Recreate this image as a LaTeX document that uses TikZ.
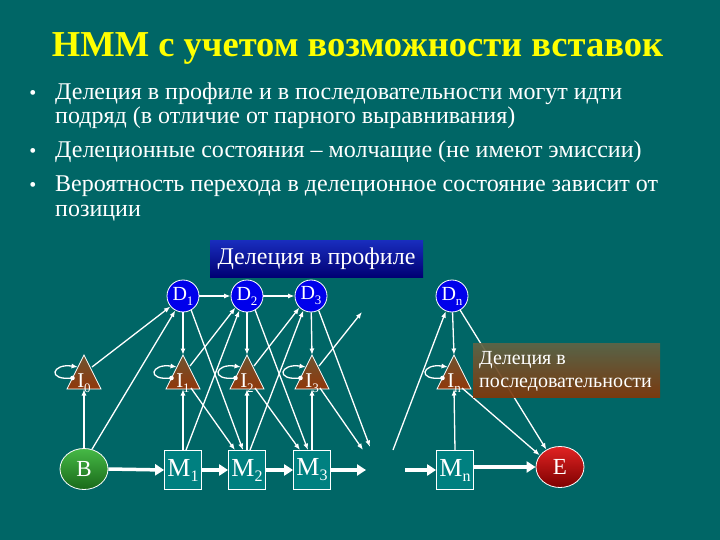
\documentclass[tikz,border=0pt]{standalone}
\usepackage{fontspec}
\setmainfont{Liberation Serif}
\usetikzlibrary{arrows.meta,calc,shapes.geometric}
\definecolor{bg}{RGB}{0,102,102}
\definecolor{mteal}{RGB}{0,128,128}
\definecolor{dblue}{RGB}{0,0,235}
\definecolor{gtop}{RGB}{70,185,70}
\definecolor{gbot}{RGB}{25,105,25}
\definecolor{rtop}{RGB}{225,35,35}
\definecolor{rbot}{RGB}{125,0,0}
\definecolor{ttop}{RGB}{110,85,50}
\definecolor{tbot}{RGB}{145,55,10}
\definecolor{btop}{RGB}{25,45,190}
\definecolor{bbot}{RGB}{0,0,115}
\definecolor{otop}{RGB}{95,100,70}
\definecolor{omid}{RGB}{160,85,25}
\definecolor{obot}{RGB}{130,55,10}
\definecolor{ttl}{RGB}{255,255,0}
\newcommand{\dsub}[1]{\raisebox{-5pt}{\fontsize{13}{13}\selectfont #1}}
\newcommand{\msub}[1]{\raisebox{-5pt}{\fontsize{16}{16}\selectfont #1}}
\newcommand{\isub}[1]{\raisebox{-5pt}{\fontsize{13}{13}\selectfont #1}}
\begin{document}
\begin{tikzpicture}[x=1pt,y=-1pt,
  dnode/.style={circle, draw=white, line width=0.8pt, fill=dblue, minimum size=32pt, inner sep=0pt, text=white, font=\fontsize{20}{20}\selectfont},
  mnode/.style={rectangle, draw=white, line width=0.8pt, fill=mteal, minimum width=37pt, minimum height=39pt, inner sep=0pt, text=white, font=\fontsize{26}{26}\selectfont},
  enode/.style={ellipse, draw=white, line width=0.8pt, minimum width=48pt, minimum height=41pt, inner sep=0pt, text=white, font=\fontsize{23}{23}\selectfont},
  ilabel/.style={anchor=base, inner sep=0pt, text=white, font=\fontsize{21}{21}\selectfont},
  tri/.style={top color=ttop, bottom color=tbot, draw=white, line width=0.8pt},
  arr/.style={draw=white, line width=1.3pt, -{Latex[length=6.5pt,width=5pt]}},
  thickarr/.style={draw=white, line width=3.5pt, -{Triangle[length=9pt,width=11pt]}},
  btxt/.style={anchor=base west, inner sep=0pt, text=white, font=\fontsize{24}{24}\selectfont},
  bdot/.style={anchor=base, inner sep=0pt, text=white, font=\fontsize{20}{20}\selectfont},
  ttltxt/.style={anchor=base, inner sep=0pt, text=ttl, font=\fontsize{36.5}{36.5}\selectfont\bfseries}
]
\useasboundingbox (0,0) rectangle (720,540);
\fill[bg] (0,0) rectangle (720,540);

% title
\node[ttltxt] (title) at (357.5,57) {HMM с учетом возможности вставок};

% bullets
\node[bdot] (p1) at (33,100) {•};
\node[btxt] (b1) at (55,100) {Делеция в профиле и в последовательности могут идти};
\node[btxt] (b2) at (55,124) {подряд (в отличие от парного выравнивания)};
\node[bdot] (p2) at (33,158) {•};
\node[btxt] (b3) at (55,158) {Делеционные состояния – молчащие (не имеют эмиссии)};
\node[bdot] (p3) at (33,192) {•};
\node[btxt] (b4) at (55,192) {Вероятность перехода в делеционное состояние зависит от};
\node[btxt] (b5) at (55,216) {позиции};

% label box 1
\node[minimum width=213pt, minimum height=37pt, inner sep=0pt, top color=btop, bottom color=bbot, text=white, font=\fontsize{24}{24}\selectfont] (lab1) at (316.5,258.5) {Делеция в профиле};

% D nodes
\node[dnode] (D1) at (183,296) {D\dsub{1}};
\node[dnode] (D2) at (247,296) {D\dsub{2}};
\node[dnode] (D3) at (311,296) {D\dsub{3}};
\node[dnode] (Dn) at (452,296) {D\dsub{n}};

% M nodes
\node[mnode] (M1) at (183,470) {M\msub{1}};
\node[mnode] (M2) at (247,470) {M\msub{2}};
\node[mnode] (M3) at (312,470) {M\msub{3}};
\node[mnode] (Mn) at (455,470) {M\msub{n}};

% B and E
\node[enode, top color=gtop, bottom color=gbot] (B) at (84,469) {B};
\node[enode, top color=rtop, bottom color=rbot] (E) at (560,467) {E};

% insert triangles
\foreach \n/\x in {0/84,1/183,2/247,3/312,n/454}{
  \coordinate (I\n) at (\x,372);
  \shadedraw[tri] (\x,355) -- (\x+17,389) -- (\x-17,389) -- cycle;
  \node[ilabel] (I\n l) at (\x,387) {I\isub{\n}};
}

% free ends
\coordinate (fa) at (366,470);
\coordinate (fb) at (405,470);
\coordinate (g1) at (362,312);
\coordinate (g2) at (370,447);
\coordinate (g3) at (363,450);
\coordinate (f1) at (393,450);

% thick match chain
\draw[thickarr] (B.east) -- (M1.west);
\draw[thickarr] (M1.east) -- (M2.west);
\draw[thickarr] (M2.east) -- (M3.west);
\draw[thickarr] (M3.east) -- (fa);
\draw[thickarr] (fb) -- (Mn.west);
\draw[thickarr] (Mn.east |- E) -- (E.west);

% delete chain
\draw[arr] (D1) -- (D2);
\draw[arr] (D2) -- (D3);

% D -> I, M -> I
\foreach \k in {1,2,3,n}{
  \draw[arr] (D\k) -- ($(I\k)+(0,-17)$);
  \draw[arr] (M\k.north) -- ($(I\k)+(0,17)$);
}

% begin state
\draw[arr] (B.north) -- ($(I0)+(0,17)$);
\draw[arr] (B.68) -- (D1.-118);
\draw[arr] ($(I0)+(8,-5)$) -- (D1.-140);

% transitions k -> k+1
\foreach \k/\j in {1/2,2/3}{
  \draw[arr] ($(I\k)+(7,-6)$) -- (D\j.-135);
  \draw[arr] ($(M\k.north)+(3,0)$) -- (D\j.-118);
  \draw[arr] ($(I\k)+(8,16)$) -- ($(M\j.north)+(-12,0)$);
  \draw[arr] (D\k.-60) -- ($(M\j.north)+(-4,0)$);
}
\draw[arr] ($(I3)+(7,-6)$) -- (g1);
\draw[arr] (D3.-62) -- (g2);
\draw[arr] ($(I3)+(8,16)$) -- (g3);
\draw[arr] (f1) -- (Dn.-112);

% end state
\draw[arr] (Dn.-60) -- (E.128);
\draw[arr] ($(In)+(8,16)$) -- (E.150);

% self loops
\foreach \k in {0,1,2,3,n}{
  \fill[white] ($(I\k)+(-11.5,6)$) circle (2.3);
  \draw[arr] ($(I\k)+(-11.5,6)$) .. controls +(-26,3) and +(-26,-4) .. ($(I\k)+(-6,-5)$);
}

% label box 2
\node[minimum width=187pt, minimum height=54pt, inner sep=0pt, top color=otop, middle color=omid, bottom color=obot, fill opacity=0.93, text opacity=1] (lab2) at (566.5,370) {};
\node[anchor=west, align=left, inner sep=0pt, text=white, font=\fontsize{20}{23}\selectfont] (lab2t) at (479,371) {Делеция в\\последовательности};
\end{tikzpicture}
\end{document}
